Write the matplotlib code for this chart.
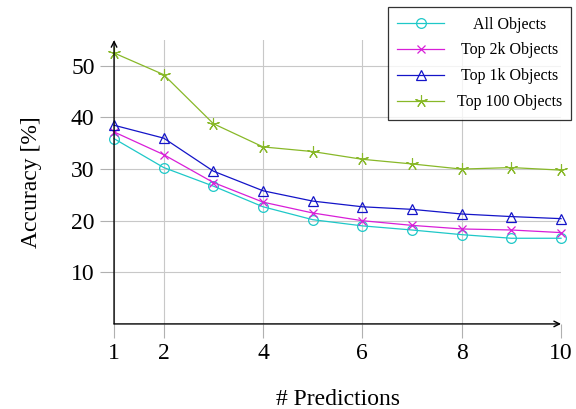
import matplotlib
matplotlib.use("Agg")
from matplotlib import pyplot as plt
from matplotlib.transforms import Bbox

plt.rcParams['font.family'] = ['Liberation Serif', 'DejaVu Serif']

predictions = [1, 2, 3, 4, 5, 6, 7, 8, 9, 10]
all_objects = [35.9, 30.3, 26.7, 22.7, 20.2, 19.0, 18.2, 17.3, 16.6, 16.6]
top_2k = [37.2, 32.8, 27.4, 23.6, 21.5, 20.0, 19.1, 18.4, 18.2, 17.7]
top_1k = [38.5, 36.0, 29.6, 25.8, 23.8, 22.7, 22.2, 21.3, 20.8, 20.4]
top_100 = [52.5, 48.3, 38.8, 34.3, 33.4, 31.9, 31.0, 30.0, 30.3, 29.8]

x_ticks = [1, 2, 4, 6, 8, 10]
y_ticks = [10, 20, 30, 40, 50]

fig = plt.figure(figsize=(5.76, 4.09), dpi=100)
ax = fig.add_axes([0.198, 0.208, 0.776, 0.694])

ax.plot(predictions, all_objects, color='#1ec8c8', lw=0.9, marker='o', ms=7,
        mfc='none', mew=0.9, label='All Objects', clip_on=False)
ax.plot(predictions, top_2k, color='#d81ed8', lw=0.9, marker='x', ms=6,
        mew=0.9, label='Top 2k Objects', clip_on=False)
ax.plot(predictions, top_1k, color='#1414c8', lw=0.9, marker='^', ms=7,
        mfc='none', mew=0.9, label='Top 1k Objects', clip_on=False)
ax.plot(predictions, top_100, color='#88b828', lw=0.9, marker=(5, 2, 0), ms=9,
        mew=0.8, label='Top 100 Objects', clip_on=False)

ax.set_xlim(1, 10)
ax.set_ylim(0, 55)
ax.set_xticks(x_ticks)
ax.set_yticks(y_ticks)
ax.tick_params(labelsize=17, length=10, direction='out', color='#b0b0b0',
               width=0.8, pad=4)
ax.grid(True, color='#c8c8c8', lw=0.8)
ax.set_axisbelow(True)

for s in ['top', 'right', 'left', 'bottom']:
    ax.spines[s].set_visible(False)
# axis lines with arrow heads
ax.annotate('', xy=(10, 0), xytext=(1, 0), xycoords='data',
            arrowprops=dict(arrowstyle='->', lw=1.0, color='black',
                            shrinkA=0, shrinkB=0), annotation_clip=False)
ax.annotate('', xy=(1, 55), xytext=(1, 0), xycoords='data',
            arrowprops=dict(arrowstyle='->', lw=1.0, color='black',
                            shrinkA=0, shrinkB=0), annotation_clip=False)

ax.set_xlabel('# Predictions', fontsize=17, labelpad=18)
ax.set_ylabel('Accuracy [%]', fontsize=17, labelpad=21)

leg = ax.legend(loc='upper right', bbox_to_anchor=(0.992, 0.983),
                bbox_transform=fig.transFigure, fontsize=11.5,
                frameon=True, fancybox=False, edgecolor='black',
                handlelength=2.9, borderpad=0.6, labelspacing=0.62,
                borderaxespad=0)
leg.get_frame().set_linewidth(0.9)

# centre the legend texts like pgfplots does
renderer = fig.canvas.get_renderer()
areas = [row.get_children()[1]
         for col in leg._legend_handle_box.get_children()
         for row in col.get_children()]
wmax = max(a.get_bbox(renderer).width for a in areas)


def centred(area, w):
    orig = area.get_bbox

    def get_bbox(r):
        b = orig(r)
        return Bbox.from_bounds(-w / 2, b.y0, w, b.height)
    return get_bbox


for a in areas:
    a._text.set_horizontalalignment('center')
    a.get_bbox = centred(a, wmax)

fig.savefig('out.png', dpi=100)
